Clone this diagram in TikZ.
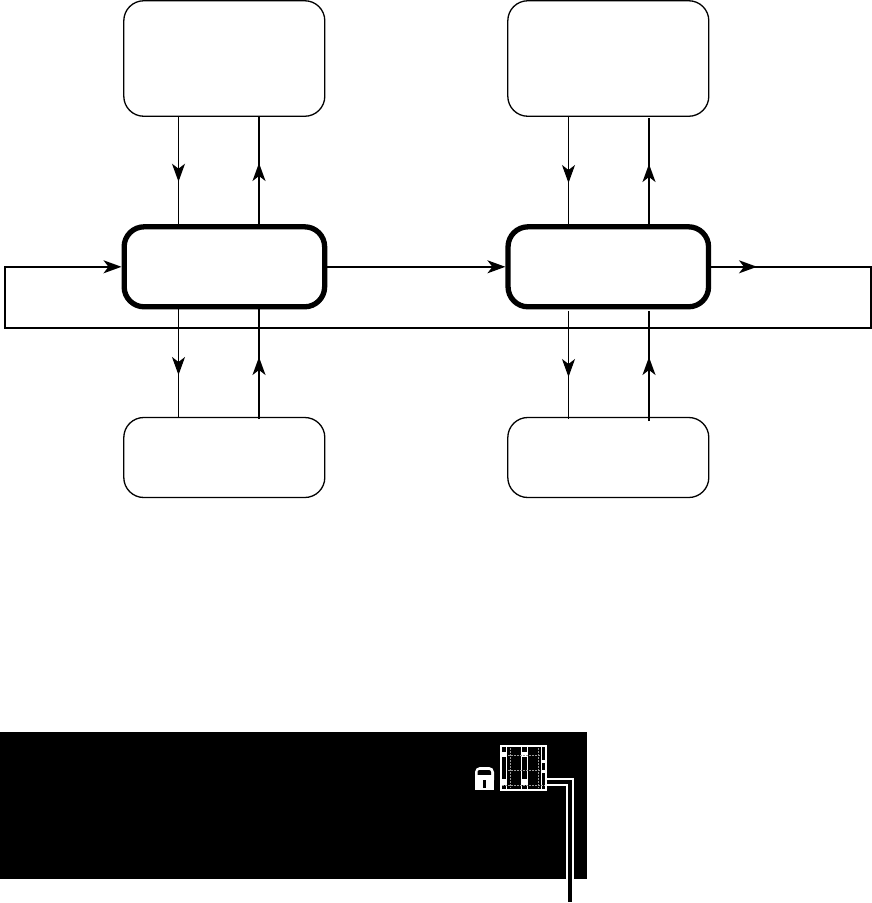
\documentclass[tikz,border=0pt]{standalone}
\usetikzlibrary{arrows.meta}
\tikzset{
  termbox/.style={draw,line width=1.3pt,rounded corners=20pt,minimum width=201pt,inner sep=0pt,outer sep=0pt},
  corebox/.style={draw,line width=5.3pt,rounded corners=20pt,minimum width=200.5pt,minimum height=80pt,inner sep=0pt,outer sep=2.65pt},
  head/.style={-{Stealth[length=18pt,width=13pt,inset=5pt]}},
  thinflow/.style={line width=1pt},
  thickflow/.style={line width=1.8pt},
  loopflow/.style={line width=1.6pt},
  grid/.style={white!60!black,line width=0.6pt,dash pattern=on 2pt off 1pt},
}
\begin{document}
\begin{tikzpicture}[x=1pt,y=-1pt]
\useasboundingbox (0,0) rectangle (872,903);
\node[termbox,minimum height=115.5pt] (ta) at (224.3,58.5) {};
\node[termbox,minimum height=115.5pt] (tb) at (608.3,58.5) {};
\node[corebox] (ma) at (224.4,266.8) {};
\node[corebox] (mb) at (608.3,266.8) {};
\node[termbox,minimum height=80pt] (ba) at (224.3,457.5) {};
\node[termbox,minimum height=80pt] (bb) at (608.3,457.5) {};
\coordinate (a1) at (178.5,0); \coordinate (a2) at (259,0);
\coordinate (b1) at (568.5,0); \coordinate (b2) at (649,0);
\coordinate (lw) at (5,328); \coordinate (le) at (871,328);
\coordinate (t1) at (178.5,181.7); \coordinate (t2) at (259,163);
\coordinate (t3) at (178.5,375); \coordinate (t4) at (259,357);
\coordinate (t5) at (568.5,183); \coordinate (t6) at (649,164);
\coordinate (t7) at (568.5,377); \coordinate (t8) at (649,357);
\coordinate (t9) at (757,266.8);
% vertical flows, left column
\draw[thinflow] (ta.south -| a1) -- (ma.north -| a1);
\draw[thinflow,head] (t1) ++(0,-20) -- (t1);
\draw[thickflow] (ma.north -| a2) -- (ta.south -| a2);
\draw[thickflow,head] (t2) ++(0,20) -- (t2);
\draw[thinflow] (ma.south -| a1) -- (ba.north -| a1);
\draw[thinflow,head] (t3) ++(0,-20) -- (t3);
\draw[thickflow] ([yshift=-1.5pt]ba.north -| a2) -- (ma.south -| a2);
\draw[thickflow,head] (t4) ++(0,20) -- (t4);
% vertical flows, right column
\draw[thinflow] ([yshift=-1pt]tb.south -| b1) -- (mb.north -| b1);
\draw[thinflow,head] (t5) ++(0,-20) -- (t5);
\draw[thickflow] (mb.north -| b2) -- ([yshift=-1.5pt]tb.south -| b2);
\draw[thickflow,head] (t6) ++(0,20) -- (t6);
\draw[thinflow] ([yshift=-1.5pt]mb.south -| b1) -- ([yshift=-1.5pt]bb.north -| b1);
\draw[thinflow,head] (t7) ++(0,-20) -- (t7);
\draw[thickflow] ([yshift=-3.5pt]bb.north -| b2) -- ([yshift=-1.5pt]mb.south -| b2);
\draw[thickflow,head] (t8) ++(0,20) -- (t8);
% horizontal flows
\draw[loopflow,head] (ma.east) -- (mb.west);
\draw[loopflow,head,line join=miter] (mb.east) -- (mb.east -| le) -- (le) -- (lw) -- (ma.west -| lw) -- (ma.west);
\draw[loopflow,head] (t9) ++(-20,0) -- (t9);
% panel
\fill[black] (0,732) rectangle (587,879);
% lock
\fill[white,rounded corners=5pt] (475,767) rectangle (494,785);
\fill[white] (475,776) rectangle (494,790);
\fill[black,rounded corners=2pt] (477.5,770) rectangle (491,779);
\fill[white] (476,775) rectangle (493,781);
\fill[black] (482.5,780) rectangle (485.5,788);
% rack icon
\node[draw=white,line width=2pt,minimum width=45pt,minimum height=44pt,inner sep=0pt,outer sep=1pt] (rack) at (523.4,768) {};
\fill[white] (501,752) rectangle (507,757);
\fill[white] (501,779) rectangle (507,785);
\fill[white] (521,752) rectangle (528,757);
\fill[white] (521,779) rectangle (528,785);
\fill[white] (541,760) rectangle (546,763);
\fill[white] (541,770) rectangle (546,773);
\fill[white] (506,747) rectangle (507,789);
\fill[white] (521,747) rectangle (522,789);
\fill[white] (527,747) rectangle (528,789);
\fill[white] (541,747) rectangle (542,789);
\draw[grid] (508,755) -- (541,755);
\draw[grid] (508,770) -- (541,770);
\draw[grid] (502,785) -- (545,785);
\draw[grid] (510,748) -- (510,788);
\draw[grid] (538,748) -- (538,788);
\coordinate (drop) at (570,902);
\draw[white,line width=8pt,line join=miter] ([yshift=-14pt]rack.east) -- ([yshift=-14pt]rack.east -| drop) -- (drop);
\draw[black,line width=4pt,line join=miter] ([yshift=-14pt]rack.east) -- ([yshift=-14pt]rack.east -| drop) -- (drop);
\end{tikzpicture}
\end{document}
